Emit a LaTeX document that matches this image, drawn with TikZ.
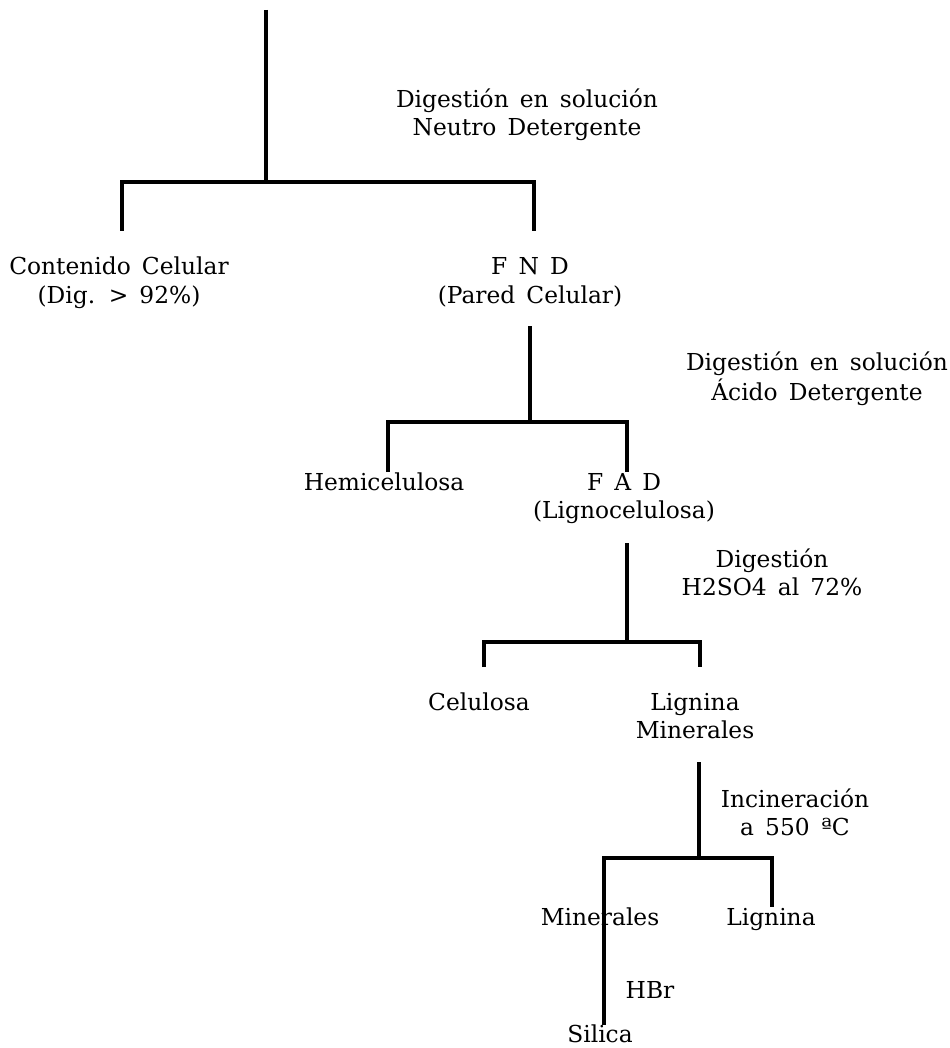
\documentclass[tikz,border=0pt]{standalone}
\usepackage{fontspec}
\setmainfont{DejaVu Serif}[WordSpace=1.5]
\newcommand{\lbfont}{\fontsize{17.5pt}{21pt}\selectfont}
\newcommand{\twoline}[2]{\begin{tabular}[t]{@{}c@{}}#1\\#2\end{tabular}}
\begin{document}
\begin{tikzpicture}[x=0.75pt,y=-0.75pt]
\tikzset{
  lbl/.style={anchor=base, inner sep=0pt, font=\lbfont},
  tree/.style={line width=2.6pt, line cap=butt, line join=miter}
}
\useasboundingbox (0,0) rectangle (949,1048);

% ---------- text nodes ----------
\node[lbl] (step1) at (527,108) {\twoline{Digestión en solución}{Neutro Detergente}};
\node[lbl] (cont)  at (119,275) {\twoline{Contenido Celular}{(Dig. > 92\%)}};
\node[lbl] (fnd)   at (530,275) {\twoline{F N D}{(Pared Celular)}};
\node[lbl] (step2) at (817,370) {\twoline{Digestión en solución}{Ácido Detergente}};
\node[lbl] (hemi)  at (384,490) {Hemicelulosa};
\node[lbl] (fad)   at (624,490) {\twoline{F A D}{(Lignocelulosa)}};
\node[lbl] (step3) at (772,567) {\twoline{Digestión}{H2SO4 al 72\%}};
\node[lbl] (celu)  at (479,710) {Celulosa};
\node[lbl] (ligmin) at (695,710) {\twoline{Lignina}{Minerales}};
\node[lbl] (step4) at (795,807) {\twoline{Incineración}{a 550 ªC}};
\node[lbl] (mine)  at (600,925) {Minerales};
\node[lbl] (lign)  at (771,925) {Lignina};
\node[lbl] (hbr)   at (650,998) {HBr};
\node[lbl] (sili)  at (600,1042) {Silica};

% ---------- connector end points ----------
\coordinate (top)  at (266,10);
\coordinate (j1)   at (266,182);
\coordinate (b1l)  at (122,182);
\coordinate (b1r)  at (534,182);
\coordinate (e1l)  at (122,231);
\coordinate (e1r)  at (534,231);

\coordinate (s2)   at (530,326);
\coordinate (j2)   at (530,422);
\coordinate (b2l)  at (388,422);
\coordinate (b2r)  at (627,422);
\coordinate (e2l)  at (388,472);
\coordinate (e2r)  at (627,472);

\coordinate (s3)   at (627,543);
\coordinate (j3)   at (627,642);
\coordinate (b3l)  at (484,642);
\coordinate (b3r)  at (700,642);
\coordinate (e3l)  at (484,667);
\coordinate (e3r)  at (700,667);

\coordinate (s4)   at (699,762);
\coordinate (j4)   at (699,858);
\coordinate (b4l)  at (604,858);
\coordinate (b4r)  at (772,858);
\coordinate (e4r)  at (772,907);
\coordinate (e4l)  at (604,1025);

% ---------- tree ----------
\draw[tree] (top) -- (j1);
\draw[tree] (e1l) -- (b1l) -- (b1r) -- (e1r);

\draw[tree] (s2) -- (j2);
\draw[tree] (e2l) -- (b2l) -- (b2r) -- (e2r);

\draw[tree] (s3) -- (j3);
\draw[tree] (e3l) -- (b3l) -- (b3r) -- (e3r);

\draw[tree] (s4) -- (j4);
\draw[tree] (e4l) -- (b4l) -- (b4r) -- (e4r);
\end{tikzpicture}
\end{document}
